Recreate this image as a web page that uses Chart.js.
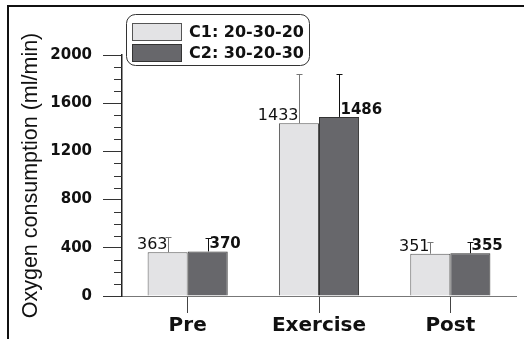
<!DOCTYPE html>
<html><head><meta charset="utf-8">
<script src="https://cdn.jsdelivr.net/npm/chart.js@4/dist/chart.umd.min.js"></script>
<style>html,body{margin:0;padding:0;background:#fff;overflow:hidden}#wrap{width:524px;height:339px;position:relative}</style>
</head><body><div id="wrap"><canvas id="c" width="524" height="339"></canvas></div>
<script>
const categories = ['Pre', 'Exercise', 'Post'];
const seriesNames = ['C1: 20-30-20', 'C2: 30-20-30'];
const c1Values = [363, 1433, 351];
const c2Values = [370, 1486, 355];
const c1Errors = [129, 407, 95];
const c2Errors = [115, 354, 93];
const yTickValues = [0, 400, 800, 1200, 1600, 2000];
const yMinorStep = 100;
const yTitle = 'Oxygen consumption (ml/min)';

const SANS = "'DejaVu Sans', sans-serif";
const ARIAL = "'Liberation Sans', Arial, sans-serif";
const fills = ['#e3e3e5', '#67676b'];
const borders = ['#555', '#333'];
const errColors = ['#777', '#111'];
const TEXT = '#111';

const decor = {
  id: 'decor',
  afterDatasetsDraw(chart) {
    const ctx = chart.ctx, y = chart.scales.y;
    const left = chart.chartArea.left;
    ctx.save();
    ctx.strokeStyle = '#333'; ctx.lineWidth = 1;
    const yMax = yTickValues[yTickValues.length - 1];
    for (let v = yMinorStep; v < yMax; v += yMinorStep) {
      if (yTickValues.includes(v)) continue;
      const py = Math.round(y.getPixelForValue(v)) + 0.5;
      ctx.beginPath(); ctx.moveTo(left - 8, py); ctx.lineTo(left, py); ctx.stroke();
    }
    const vals = [c1Values, c2Values], errs = [c1Errors, c2Errors];
    chart.data.datasets.forEach((ds, i) => {
      const meta = chart.getDatasetMeta(i);
      meta.data.forEach((bar, j) => {
        const x = Math.round(bar.x) + 0.5;
        const top = Math.round(y.getPixelForValue(vals[i][j] + errs[i][j])) + 0.5;
        ctx.strokeStyle = errColors[i]; ctx.lineWidth = 1;
        ctx.beginPath();
        ctx.moveTo(x, bar.y); ctx.lineTo(x, top);
        ctx.moveTo(x - 3, top); ctx.lineTo(x + 3, top);
        ctx.stroke();
        ctx.fillStyle = TEXT;
        ctx.textBaseline = 'alphabetic';
        if (i === 0) {
          ctx.font = '16px ' + SANS; ctx.textAlign = 'right';
          ctx.fillText(String(vals[i][j]), x - 1, bar.y - 3);
        } else {
          ctx.font = 'bold 15px ' + SANS; ctx.textAlign = 'left';
          ctx.fillText(String(vals[i][j]), x + 1, bar.y - 3);
        }
      });
    });
    ctx.restore();
  },
  afterDraw(chart) {
    const ctx = chart.ctx;
    ctx.save();
    ctx.strokeStyle = '#333'; ctx.lineWidth = 1;
    ctx.beginPath();
    ctx.roundRect(126.5, 14.5, 183, 51, 9);
    ctx.stroke();
    const sw = [[132.5, 23.5], [132.5, 44.5]];
    chart.data.datasets.forEach((ds, i) => {
      ctx.fillStyle = ds.backgroundColor;
      ctx.fillRect(sw[i][0], sw[i][1], 49, 17);
      ctx.strokeStyle = ds.borderColor;
      ctx.strokeRect(sw[i][0], sw[i][1], 49, 17);
      ctx.fillStyle = TEXT;
      ctx.font = 'bold 16px ' + SANS;
      ctx.textAlign = 'left'; ctx.textBaseline = 'middle';
      ctx.fillText(ds.label, 189, sw[i][1] + 9);
    });
    ctx.strokeStyle = '#111'; ctx.lineWidth = 2;
    ctx.beginPath();
    ctx.moveTo(8, 339); ctx.lineTo(8, 6); ctx.lineTo(524, 6);
    ctx.stroke();
    ctx.restore();
  }
};

new Chart(document.getElementById('c'), {
  type: 'bar',
  data: {
    labels: categories,
    datasets: [
      { label: seriesNames[0], data: c1Values, backgroundColor: fills[0], borderColor: borders[0], borderWidth: 1 },
      { label: seriesNames[1], data: c2Values, backgroundColor: fills[1], borderColor: borders[1], borderWidth: 1 }
    ]
  },
  options: {
    responsive: false,
    animation: false,
    devicePixelRatio: 1,
    layout: { padding: { top: 55, right: 8, bottom: 0, left: 0 } },
    datasets: { bar: { categoryPercentage: 0.61, barPercentage: 1.0 } },
    plugins: { legend: { display: false }, tooltip: { enabled: false } },
    scales: {
      x: {
        offset: true,
        grid: { offset: false, drawOnChartArea: false, drawTicks: true, tickLength: 17, color: '#444', lineWidth: 1 },
        border: { display: true, color: '#777', width: 1 },
        ticks: { color: TEXT, font: { family: SANS, size: 20, weight: 'bold' }, padding: 1, maxRotation: 0 },
        afterFit(s) { s.height = 43; }
      },
      y: {
        min: 0, max: 2000,
        afterBuildTicks(s) { s.ticks = yTickValues.map(v => ({ value: v })); },
        grid: { drawOnChartArea: false, drawTicks: true, tickLength: 19, color: '#333', lineWidth: 1 },
        border: { display: true, color: '#222', width: 1.5 },
        ticks: { color: TEXT, font: { family: SANS, size: 15, weight: 'bold' }, padding: 11, callback: v => String(v) },
        title: { display: true, text: yTitle, color: TEXT, font: { family: ARIAL, size: 21.5, weight: 'normal' }, padding: { top: 18, bottom: 0 } },
        afterFit(s) { s.width = 122; }
      }
    }
  },
  plugins: [decor]
});
</script>
</body></html>
